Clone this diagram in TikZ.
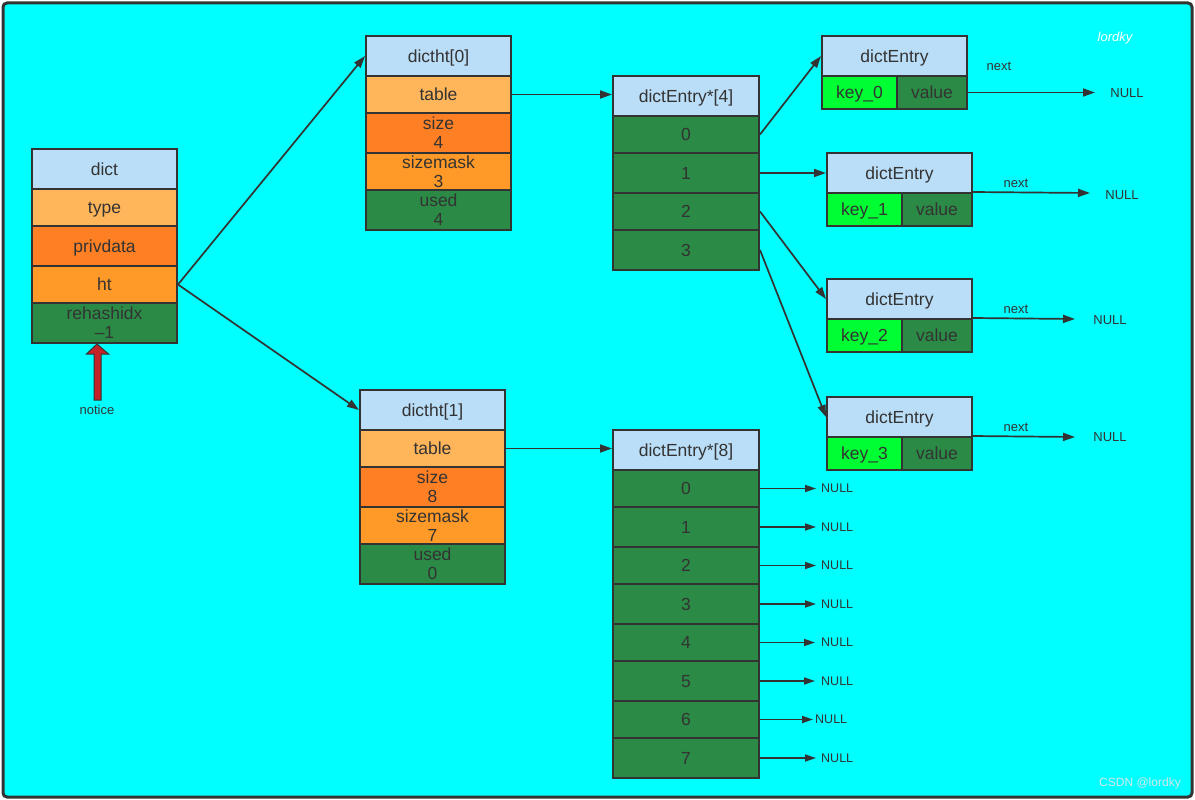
\documentclass[tikz,border=0pt]{standalone}
\usepackage{fontspec}
\setmainfont{Liberation Sans}
\usetikzlibrary{arrows.meta}
\definecolor{linec}{RGB}{51,51,51}
\definecolor{txt}{RGB}{51,51,51}
\definecolor{hdrc}{RGB}{187,222,248}
\definecolor{lorange}{RGB}{255,181,90}
\definecolor{dorange}{RGB}{255,127,36}
\definecolor{morange}{RGB}{255,153,40}
\definecolor{dgreen}{RGB}{43,138,69}
\definecolor{bgreen}{RGB}{0,255,50}
\definecolor{bgcyan}{RGB}{0,255,255}
\definecolor{noticered}{RGB}{196,35,40}
\definecolor{csdn}{RGB}{215,232,232}
\tikzset{
  cell/.style={draw=linec, line width=2pt, text=txt, inner sep=0pt, align=center,
    font=\fontsize{17.5}{19}\selectfont},
  one/.style={text height=12.5pt, text depth=0pt},
  hdr/.style={cell, fill=hdrc},
  lor/.style={cell, fill=lorange},
  dor/.style={cell, fill=dorange},
  mor/.style={cell, fill=morange},
  grn/.style={cell, fill=dgreen},
  key/.style={cell, fill=bgreen},
  w145/.style={minimum width=145pt},
  h40/.style={minimum height=40pt},
  h37/.style={minimum height=37pt},
  h33/.style={minimum height=33pt},
  conn/.style={draw=linec, line width=1.7pt, -{Triangle[length=12pt,width=8pt]}},
  small/.style={text=txt, font=\fontsize{13}{15}\selectfont, inner sep=0pt},
}
\begin{document}
\begin{tikzpicture}[x=1pt,y=-1pt]
\useasboundingbox (0,0) rectangle (1195,800);
\fill[white] (0,0) rectangle (1195,800);
\draw[rounded corners=4pt, fill=bgcyan, draw=linec, line width=3pt] (3,3) rectangle (1192,797);

% dict
\node[hdr,one,w145,h40] (d0) at (104.5,169) {dict};
\node[lor,one,w145,h37] (d1) at (104.5,207.5) {type};
\node[dor,one,w145,h40] (d2) at (104.5,246) {privdata};
\node[mor,one,w145,h37] (d3) at (104.5,284.5) {ht};
\node[grn,w145,h40] (d4) at (104.5,323) {rehashidx\\\textendash1};

% notice arrow
\draw[fill=noticered, draw=linec, line width=1pt] (97,344) -- (86.5,354) -- (94,354) -- (94,400) -- (101,400) -- (101,354) -- (108.5,354) -- cycle;
\node[small] (notice) at (97,410) {notice};

% dictht[0]
\node[hdr,one,w145,h40] (a0) at (438.5,56) {dictht[0]};
\node[lor,one,w145,h37] (a1) at (438.5,94.5) {table};
\node[dor,w145,h40] (a2) at (438.5,133) {size\\4};
\node[mor,w145,h37] (a3) at (438.5,171.5) {sizemask\\3};
\node[grn,w145,h40] (a4) at (438.5,210) {used\\4};

% dictht[1]
\node[hdr,one,w145,h40] (b0) at (432.5,410) {dictht[1]};
\node[lor,one,w145,h37] (b1) at (432.5,448.5) {table};
\node[dor,w145,h40] (b2) at (432.5,487) {size\\8};
\node[mor,w145,h37] (b3) at (432.5,525.5) {sizemask\\7};
\node[grn,w145,h40] (b4) at (432.5,564) {used\\0};

% dictEntry*[4]
\begin{scope}[every node/.append style={minimum width=146pt}]
\node[hdr,one,h40] (p) at (686,96) {dictEntry*[4]};
\node[grn,one,h37] (p0) at (686,134.5) {0};
\node[grn,one,h40] (p1) at (686,173) {1};
\node[grn,one,h37] (p2) at (686,211.5) {2};
\node[grn,one,h40] (p3) at (686,250) {3};

% dictEntry*[8]
\node[hdr,one,h40] (q) at (686,450) {dictEntry*[8]};
\node[grn,one,h37] (q0) at (686,488.5) {0};
\node[grn,one,h40] (q1) at (686,527) {1};
\node[grn,one,h37] (q2) at (686,565.5) {2};
\node[grn,one,h40] (q3) at (686,604) {3};
\node[grn,one,h37] (q4) at (686,642.5) {4};
\node[grn,one,h40] (q5) at (686,681) {5};
\node[grn,one,h37] (q6) at (686,719.5) {6};
\node[grn,one,h40] (q7) at (686,758) {7};
\end{scope}

% dictEntry boxes
\node[hdr,one,w145,h40] (e0) at (894.5,56) {dictEntry};
\node[key,one,minimum width=75pt,h33] (k0) at (859.5,92.5) {key\_0};
\node[grn,one,minimum width=70pt,h33] (v0) at (932,92.5) {value};

\node[hdr,one,w145,h40] (e1) at (899.5,173) {dictEntry};
\node[key,one,minimum width=75pt,h33] (k1) at (864.5,209.5) {key\_1};
\node[grn,one,minimum width=70pt,h33] (v1) at (937,209.5) {value};

\node[hdr,one,w145,h40] (e2) at (899.5,299) {dictEntry};
\node[key,one,minimum width=75pt,h33] (k2) at (864.5,335.5) {key\_2};
\node[grn,one,minimum width=70pt,h33] (v2) at (937,335.5) {value};

\node[hdr,one,w145,h40] (e3) at (899.5,417) {dictEntry};
\node[key,one,minimum width=75pt,h33] (k3) at (864.5,453.5) {key\_3};
\node[grn,one,minimum width=70pt,h33] (v3) at (937,453.5) {value};

% main connectors
\draw[conn] (d3.east) -- (a0.west);
\draw[conn] (d3.east) -- (b0.west);
\draw[conn] (a1.east) -- (a1.east -| p.west);
\draw[conn] (b1.east) -- (b1.east -| q.west);
\draw[conn] (p0.east) -- (e0.west);
\draw[conn] (p1.east) -- (e1.west);
\draw[conn] (p2.east) -- (e2.west);
\draw[conn] (p3.east) -- (e3.west);

% next pointers
\coordinate (n0) at (1095,92.5);
\coordinate (n1) at (1090,193);
\coordinate (n2) at (1075,319);
\coordinate (n3) at (1075,437);
\draw[conn] (v0.east) -- (n0);
\draw[conn] (v1.north east) -- (n1);
\draw[conn] (v2.north east) -- (n2);
\draw[conn] (v3.north east) -- (n3);
\node[small] (nx0) at (999,66) {next};
\node[small] (nx1) at (1016,183) {next};
\node[small] (nx2) at (1016,309) {next};
\node[small] (nx3) at (1016,427) {next};
\node[small] (nl0) at (1127,93) {NULL};
\node[small] (nl1) at (1122,195) {NULL};
\node[small] (nl2) at (1110,320) {NULL};
\node[small] (nl3) at (1110,437) {NULL};

% NULLs for dictEntry*[8]
\foreach \i/\t in {0/816,1/816,2/816,3/816,4/815,5/815,6/813,7/816}{
  \coordinate (t\i) at (q\i.east -| \t,0);
}
\foreach \i/\lx in {0/821,1/821,2/821,3/821,4/821,5/821,6/815,7/821}{
  \draw[conn, -{Triangle[length=11pt,width=7pt]}] (q\i.east) -- (q\i.east -| t\i);
  \node[small, anchor=west, font=\fontsize{12.5}{14}\selectfont] (nq\i) at (q\i.east -| \lx,0) {NULL};
}

% watermarks
\node[text=white, font=\fontsize{13}{15}\selectfont\itshape, inner sep=0pt] (wm) at (1115,38) {lordky};
\node[text=csdn, font=\fontsize{12}{14}\selectfont, inner sep=0pt] (cs) at (1140,783) {CSDN @lordky};
\end{tikzpicture}
\end{document}
